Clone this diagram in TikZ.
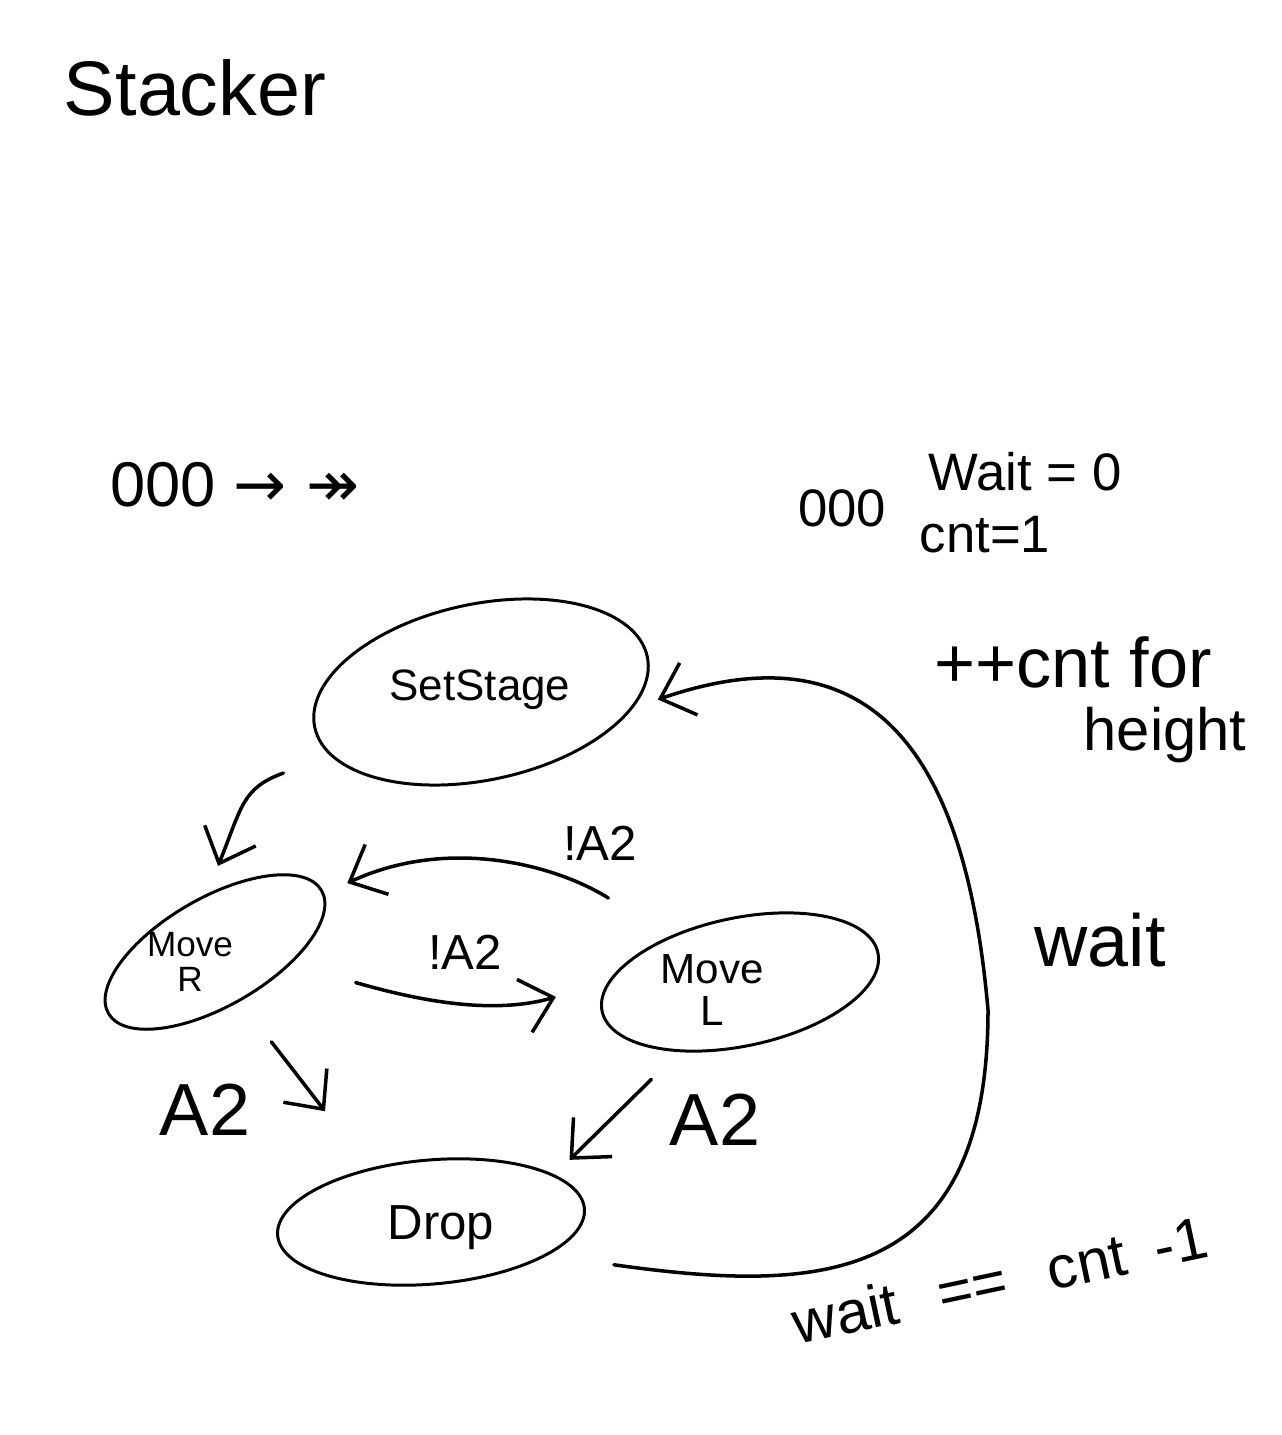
\documentclass[tikz,border=0pt]{standalone}
\usepackage{fontspec}
\setmainfont{Liberation Sans}
\newfontfamily\arrfont{DejaVu Sans}
\usetikzlibrary{shapes.geometric,arrows.meta}
\tikzset{
    state/.style={draw, ellipse, line width=1.7pt, inner sep=0pt},
    arr/.style={line width=2pt, line cap=round, -{Straight Barb[length=6mm,width=11mm]}},
    hand/.style={anchor=center, font=\fontsize{#1}{#1}\selectfont, align=center}
}
\begin{document}
\begin{tikzpicture}[x=0.02cm, y=-0.02cm]
            \useasboundingbox (0,0) rectangle (1281,1435);
            \node[hand=44] at (195,88) (title) {Stacker};
            \node[hand=36] at (235,485) (reset) {000 {\arrfont → ↠}};
            \node[hand=30] at (842,508) (zeros) {000};
            \node[hand=30] at (1025,472) (waitinit) {Wait = 0};
            \node[hand=30] at (985,535) (cntinit) {cnt=1};
            \node[hand=40] at (1073,662) (cntinc) {++cnt for};
            \node[hand=34] at (1165,735) (cntheight) {height};
            \node[state, minimum width=6.8cm, minimum height=3.52cm, rotate=12] at (481,692) (setstage) {};
            \node[state, minimum width=4.92cm, minimum height=2.16cm, rotate=30] at (215,952) (mover) {};
            \node[state, minimum width=5.64cm, minimum height=2.56cm, rotate=12] at (740,982) (movel) {};
            \node[state, minimum width=6.16cm, minimum height=2.48cm, rotate=5] at (431,1222) (drop) {};
            \node[hand=25] at (480,690) (setstagetext) {SetStage};
            \node[hand=20] at (190,962) (movertext) {Move\\R};
            \node[hand=24] at (712,990) (moveltext) {Move\\L};
            \node[hand=28] at (441,1228) (droptext) {Drop};
            \node[hand=28] at (600,843) (notatop) {!A2};
            \node[hand=28] at (465,952) (notamid) {!A2};
            \node[hand=42] at (205,1110) (aleft) {A2};
            \node[hand=42] at (715,1120) (aright) {A2};
            \node[hand=42] at (1100,940) (waitlabel) {wait};
            \node[hand=34, rotate=12] at (1000,1280) (waitcond) {wait\hspace{0.7em}==\hspace{0.7em}cnt\hspace{0.5em}-1};
            \coordinate (waitbend) at (988,1010);
            \draw[arr, shorten <=1cm, shorten >=0.6cm] (setstage.191) to[out=200, in=68, looseness=1.3] (mover.68);
            \draw[arr, shorten <=1.44cm, shorten >=0.5cm] (movel.135) to[out=148, in=25] (mover.-2);
            \draw[arr, shorten <=1.34cm, shorten >=1.08cm] (mover.-39) to[out=-16, in=196] (movel.168);
            \draw[arr, shorten <=1.02cm, shorten >=1.44cm] (mover.-93) -- (drop.134);
            \draw[arr, shorten <=0.78cm, shorten >=0.42cm] (movel.217) -- (drop.16);
            \draw[arr, shorten <=1.34cm, shorten >=0.52cm] (drop.-21) to[out=-8, in=-90, looseness=1.4] (waitbend) to[out=95, in=19, looseness=1.4] (setstage.-18.5);
        \end{tikzpicture}
\end{document}
